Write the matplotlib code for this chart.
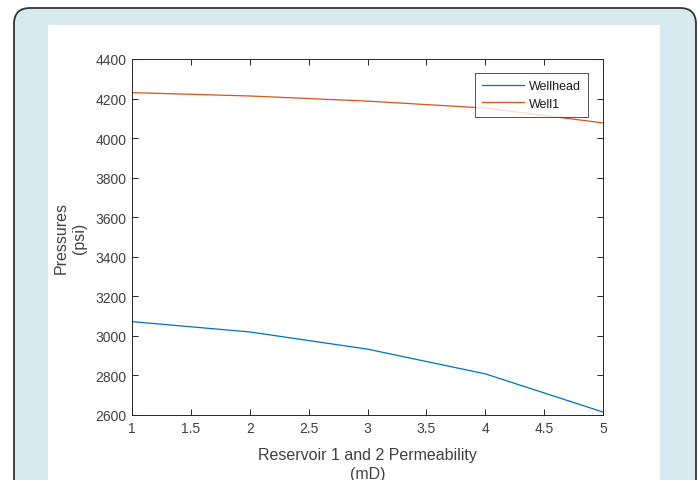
import matplotlib.pyplot as plt
from matplotlib.patches import FancyBboxPatch, Rectangle

permeability = [1, 2, 3, 4, 5]
wellhead = [3072, 3020, 2933, 2808, 2615]
well1 = [4230, 4213, 4187, 4152, 4077]
series_names = ["Wellhead", "Well1"]

plt.rcParams["font.family"] = ["Liberation Sans", "DejaVu Sans"]

W, H = 699, 481
fig = plt.figure(figsize=(W / 100, H / 100), dpi=100)
fig.patch.set_facecolor("white")

# rounded light blue card with dark border, white panel on top
card = FancyBboxPatch((0.14, -0.5), 6.82, 4.72 + 0.5, boxstyle="round,pad=0,rounding_size=0.16",
                      transform=fig.dpi_scale_trans, facecolor="#d6ebf0",
                      edgecolor="#333333", linewidth=1.3, zorder=-2)
fig.patches.append(card)
panel = Rectangle((48 / W, 0), (660 - 48) / W, 1 - 26 / H, transform=fig.transFigure,
                  facecolor="white", edgecolor="none", zorder=-1)
fig.patches.append(panel)

ax = fig.add_axes([132 / W, 1 - 416 / H, (603 - 132) / W, (416 - 60) / H])
ax.plot(permeability, wellhead, color="#0072BD", linewidth=0.9, label=series_names[0])
ax.plot(permeability, well1, color="#D95319", linewidth=0.9, label=series_names[1])

ax.set_xlim(1, 5)
ax.set_ylim(2600, 4400)
ax.set_xticks([1, 1.5, 2, 2.5, 3, 3.5, 4, 4.5, 5])
ax.set_xticklabels(["1", "1.5", "2", "2.5", "3", "3.5", "4", "4.5", "5"])
ax.set_yticks(range(2600, 4401, 200))
ax.tick_params(direction="in", length=4, width=0.7, top=True, right=True,
               labelsize=10, colors="#262626", labelcolor="#404040", pad=4)
for s in ax.spines.values():
    s.set_linewidth(0.7)
    s.set_color("#262626")

ax.set_xlabel("Reservoir 1 and 2 Permeability\n(mD)", fontsize=11.5, color="#404040",
              linespacing=1.3, labelpad=9)
ax.set_ylabel("Pressures\n(psi)", fontsize=11.5, color="#404040", linespacing=1.25, labelpad=6)

leg = ax.legend(loc="upper right", bbox_to_anchor=(0.968, 0.96), borderaxespad=0,
                fontsize=9, frameon=True, fancybox=False, edgecolor="#262626",
                handlelength=3.4, borderpad=0.55, labelspacing=0.45, handletextpad=0.4)
leg.get_frame().set_linewidth(0.7)
for t in leg.get_texts():
    t.set_color("#1a1a1a")

fig.savefig("out.png", dpi=100)
